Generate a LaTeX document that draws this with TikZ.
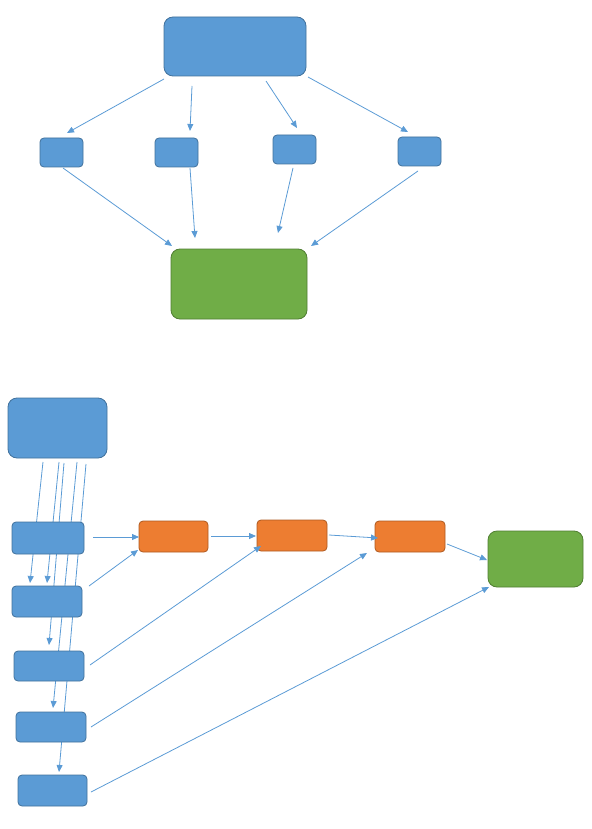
\documentclass[tikz,border=0pt]{standalone}
\usetikzlibrary{arrows.meta}
\definecolor{bfill}{HTML}{5B9BD5}
\definecolor{bline}{HTML}{41719C}
\definecolor{ofill}{HTML}{ED7D31}
\definecolor{oline}{HTML}{AE5A21}
\definecolor{gfill}{HTML}{70AD47}
\definecolor{gline}{HTML}{507E32}
\pgfdeclarelayer{background}
\pgfsetlayers{background,main}
\begin{document}
\begin{tikzpicture}[x=1pt,y=-1pt,
  base/.style={rectangle,inner sep=0pt,outer sep=0pt,line width=0.8pt},
  bluebox/.style={base,fill=bfill,draw=bline,rounded corners=4pt},
  bigblue/.style={base,fill=bfill,draw=bline,rounded corners=9pt},
  orangebox/.style={base,fill=ofill,draw=oline,rounded corners=4pt},
  greenbox/.style={base,fill=gfill,draw=gline,rounded corners=9pt},
  arr/.style={draw=bfill,line width=0.8pt,-{Triangle[length=7pt,width=6pt]}},
  ln/.style={draw=bfill,line width=0.8pt}]
\useasboundingbox (0,0) rectangle (591,829);
% top section
\node[bigblue,minimum width=142pt,minimum height=59pt] (A) at (235,46.5) {};
\node[bluebox,minimum width=43pt,minimum height=29pt] (B1) at (61.5,152.5) {};
\node[bluebox,minimum width=43pt,minimum height=29pt] (B2) at (176.5,152.5) {};
\node[bluebox,minimum width=43pt,minimum height=29pt] (B3) at (294.5,149.5) {};
\node[bluebox,minimum width=43pt,minimum height=29pt] (B4) at (419.5,151.5) {};
\node[greenbox,minimum width=136pt,minimum height=70pt] (G1) at (239,284) {};
% bottom section
\node[bigblue,minimum width=99pt,minimum height=60pt] (C) at (57.5,428) {};
\node[bluebox,minimum width=72pt,minimum height=32pt] (D1) at (48,538) {};
\node[bluebox,minimum width=70pt,minimum height=31pt] (D2) at (47,601.5) {};
\node[bluebox,minimum width=70pt,minimum height=30pt] (D3) at (49,666) {};
\node[bluebox,minimum width=70pt,minimum height=30pt] (D4) at (51,727) {};
\node[bluebox,minimum width=69pt,minimum height=31pt] (D5) at (52.5,790.5) {};
\node[orangebox,minimum width=69pt,minimum height=31pt] (O1) at (173.5,536.5) {};
\node[orangebox,minimum width=70pt,minimum height=31pt] (O2) at (292,535.5) {};
\node[orangebox,minimum width=70pt,minimum height=31pt] (O3) at (410,536.5) {};
\node[greenbox,minimum width=95pt,minimum height=56pt] (G2) at (535.5,559) {};
% top connectors
\coordinate (a1) at (164,79); \coordinate (b1t) at (67,133);
\coordinate (a2) at (192,86); \coordinate (b2t) at (190,131);
\coordinate (a3) at (266,81); \coordinate (b3t) at (297,128);
\coordinate (a4) at (308,77); \coordinate (b4t) at (408,132);
\coordinate (b1b) at (63,168); \coordinate (g1) at (172,246);
\coordinate (b2b) at (190,168); \coordinate (g2) at (195,238);
\coordinate (b3b) at (293,168); \coordinate (g3) at (278,233);
\coordinate (b4b) at (418,171); \coordinate (g4) at (311,246);
\draw[arr] (a1) -- (b1t);
\draw[arr] (a2) -- (b2t);
\draw[arr] (a3) -- (b3t);
\draw[arr] (a4) -- (b4t);
\draw[arr] (b1b) -- (g1);
\draw[arr] (b2b) -- (g2);
\draw[arr] (b3b) -- (g3);
\draw[arr] (b4b) -- (g4);
% bottom-left vertical lines (behind boxes)
\coordinate (c1) at (43,462); \coordinate (e1) at (30,583);
\coordinate (c2) at (59,462); \coordinate (e2) at (47,583);
\coordinate (c3) at (64,463); \coordinate (e3) at (49,645);
\coordinate (c4) at (77,462); \coordinate (e4) at (53,708);
\coordinate (c5) at (86,464); \coordinate (e5) at (59,772);
\begin{pgfonlayer}{background}
\draw[arr] (c1) -- (e1);
\draw[arr] (c2) -- (e2);
\draw[arr] (c3) -- (e3);
\draw[arr] (c4) -- (e4);
\draw[arr] (c5) -- (e5);
\end{pgfonlayer}
% bottom connectors
\coordinate (d1r) at (93,537); \coordinate (o1l) at (139,537);
\coordinate (d2r) at (89,586); \coordinate (o1b) at (138,550);
\coordinate (o1r) at (211,536); \coordinate (o2l) at (256,536);
\coordinate (o2r) at (329,535); \coordinate (o3l) at (378,538);
\coordinate (o3r) at (447,544); \coordinate (g2l) at (487,560);
\coordinate (d3r) at (90,665); \coordinate (o2b) at (261,546);
\coordinate (d4r) at (91,727); \coordinate (o3b) at (367,553);
\coordinate (d5r) at (91,792); \coordinate (g2b) at (489,587);
\draw[arr] (d1r) -- (o1l);
\draw[arr] (d2r) -- (o1b);
\draw[arr] (o1r) -- (o2l);
\draw[arr] (o2r) -- (o3l);
\draw[arr] (o3r) -- (g2l);
\draw[arr] (d3r) -- (o2b);
\draw[arr] (d4r) -- (o3b);
\draw[arr] (d5r) -- (g2b);
\end{tikzpicture}
\end{document}
